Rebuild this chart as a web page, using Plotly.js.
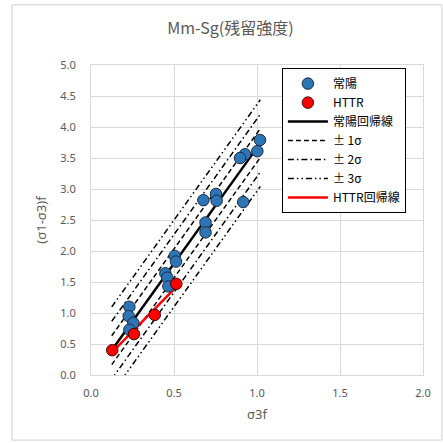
<!DOCTYPE html>
<html>
<head>
<meta charset="utf-8">
<script src="https://cdn.plot.ly/plotly-3.0.1.min.js"></script>
<style>html,body{margin:0;padding:0;background:#fff;}#chart{width:443px;height:443px;}</style>
</head>
<body>
<div id="chart"></div>
<script>
// 常陽 data
const joyoX = [0.677, 0.753, 0.757, 0.917, 0.690, 0.690, 0.504, 0.512, 0.448, 0.460, 0.466, 0.231, 0.227, 0.255, 0.231, 1.018, 1.002, 0.928, 0.898];
const joyoY = [2.82, 2.92, 2.81, 2.79, 2.46, 2.30, 1.92, 1.83, 1.64, 1.57, 1.43, 1.10, 0.95, 0.84, 0.73, 3.79, 3.61, 3.56, 3.50];
// HTTR data
const httrX = [0.128, 0.259, 0.384, 0.514];
const httrY = [0.40, 0.66, 0.97, 1.47];
// regression lines (end points)
const joyoRegX = [0.125, 1.02];
const joyoRegY = [0.40, 3.74];
const sigma = 0.233;
const httrRegX = [0.128, 0.514];
const httrRegY = [0.37, 1.42];
const xTicks = [0, 0.5, 1.0, 1.5, 2.0];
const yTicks = [0, 0.5, 1.0, 1.5, 2.0, 2.5, 3.0, 3.5, 4.0, 4.5, 5.0];

const FONT = '"Noto Sans", "Noto Sans CJK JP", sans-serif';
const JFONT = '"Noto Sans CJK JP", "Noto Sans", sans-serif';

function band(k) {
  const up = joyoRegY.map(v => v + k * sigma);
  const dn = joyoRegY.map(v => v - k * sigma);
  return {x: [joyoRegX[0], joyoRegX[1], null, joyoRegX[0], joyoRegX[1]],
          y: [up[0], up[1], null, dn[0], dn[1]]};
}
const b1 = band(1), b2 = band(2), b3 = band(3);

const traces = [
  {x: b1.x, y: b1.y, mode: 'lines', name: '± 1σ', legendrank: 4, connectgaps: false,
   line: {color: '#000', width: 1.5, dash: '5px,3px'}},
  {x: b2.x, y: b2.y, mode: 'lines', name: '± 2σ', legendrank: 5, connectgaps: false,
   line: {color: '#000', width: 1.5, dash: '6px,3px,1.5px,3px'}},
  {x: b3.x, y: b3.y, mode: 'lines', name: '± 3σ', legendrank: 6, connectgaps: false,
   line: {color: '#000', width: 1.5, dash: '6px,3px,1.5px,3px,1.5px,3px'}},
  {x: joyoRegX, y: joyoRegY, mode: 'lines', name: '常陽回帰線', legendrank: 3,
   line: {color: '#000', width: 2.5}},
  {x: httrRegX, y: httrRegY, mode: 'lines', name: 'HTTR回帰線', legendrank: 7,
   line: {color: '#ff0000', width: 2.5}},
  {x: joyoX, y: joyoY, mode: 'markers', name: '常陽', legendrank: 1,
   marker: {color: '#2e75b6', size: 11.5, line: {color: '#1a2b48', width: 1}}},
  {x: httrX, y: httrY, mode: 'markers', name: 'HTTR', legendrank: 2,
   marker: {color: '#ff0000', size: 11.5, line: {color: '#3a0a0a', width: 1}}}
];

const layout = {
  width: 443, height: 443,
  margin: {l: 91, r: 20, t: 65, b: 68},
  paper_bgcolor: '#fff', plot_bgcolor: '#fff',
  font: {family: FONT, size: 11, color: '#595959'},
  title: {text: 'Mm-Sg(残留強度)', font: {family: JFONT, size: 16, color: '#595959'},
          x: 0.52, xanchor: 'center', y: 0.935, yanchor: 'middle'},
  xaxis: {range: [0, 2], tickvals: xTicks, tickformat: '.1f', showgrid: true, gridcolor: '#d9d9d9',
          zeroline: false, showline: true, linecolor: '#d9d9d9', mirror: true,
          ticks: 'outside', ticklen: 8, tickcolor: 'rgba(0,0,0,0)',
          tickfont: {size: 11, color: '#595959'},
          title: {text: 'σ3f', font: {size: 13, color: '#595959'}, standoff: 10}},
  yaxis: {range: [0, 5], tickvals: yTicks, tickformat: '.1f', showgrid: true, gridcolor: '#d9d9d9',
          zeroline: false, showline: true, linecolor: '#d9d9d9', mirror: true,
          ticks: 'outside', ticklen: 12, tickcolor: 'rgba(0,0,0,0)',
          tickfont: {size: 11, color: '#595959'},
          title: {text: '(σ1-σ3)f', font: {size: 13, color: '#595959'}, standoff: 10}},
  legend: {x: 0.575, y: 0.99, xanchor: 'left', yanchor: 'top', bgcolor: '#fff',
           bordercolor: '#000', borderwidth: 1, font: {family: JFONT, size: 12, color: '#000'},
           tracegroupgap: 0, itemwidth: 40},
  shapes: [{type: 'rect', xref: 'paper', yref: 'paper', x0: -0.238, x1: 1.057, y0: -0.21, y1: 1.194,
            line: {color: '#d0d0d0', width: 1}, fillcolor: 'rgba(0,0,0,0)'}],
  showlegend: true
};

Plotly.newPlot('chart', traces, layout, {displayModeBar: false, staticPlot: true});
</script>
</body>
</html>
